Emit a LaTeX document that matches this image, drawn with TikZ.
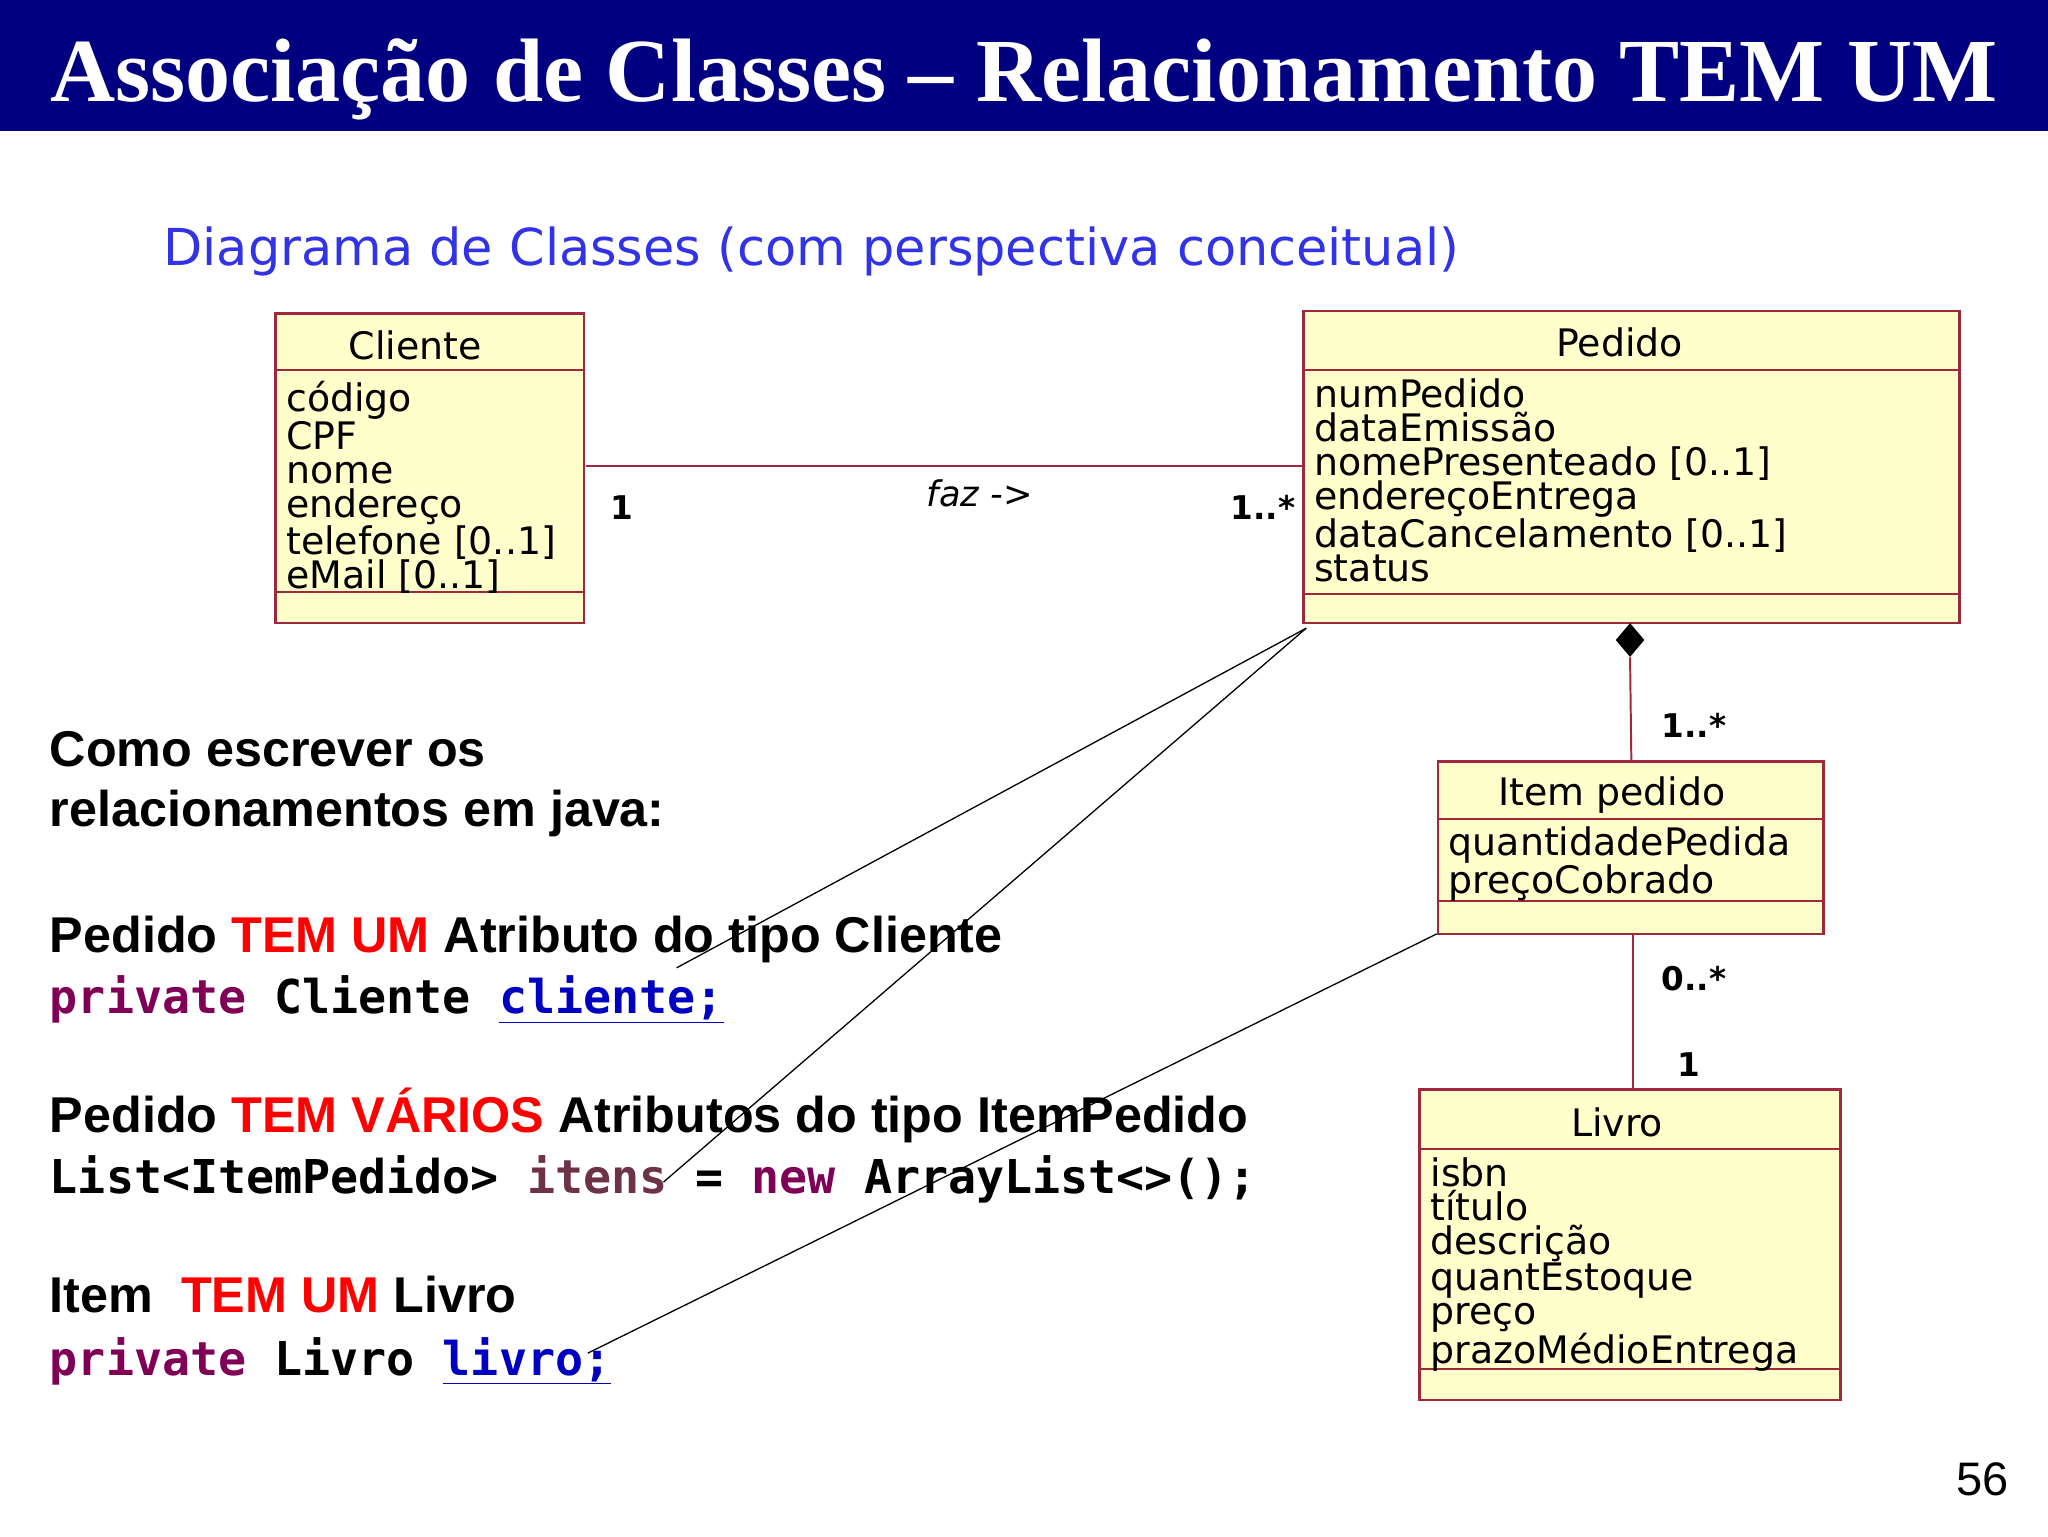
\documentclass[tikz,border=0pt]{standalone}
\usepackage{fontspec}
\setmainfont{Liberation Sans}
\newfontfamily\titlefont{Liberation Serif}
\newfontfamily\umlfont{DejaVu Sans}
\newfontfamily\codefont{DejaVu Sans Mono}
\usetikzlibrary{shapes.geometric}
\definecolor{navy}{RGB}{0,0,128}
\definecolor{umlfill}{RGB}{255,255,204}
\definecolor{umlline}{RGB}{160,40,60}
\definecolor{kw}{RGB}{127,0,85}
\definecolor{fld}{RGB}{0,0,192}
\definecolor{subblue}{RGB}{50,50,230}
\definecolor{item}{RGB}{110,50,70}
\begin{document}
\begin{tikzpicture}[x=1pt,y=-1pt,
  box/.style={draw=umlline,line width=2pt,fill=umlfill},
  sep/.style={draw=umlline,line width=1.5pt},
  hdr/.style={font=\umlfont\fontsize{29}{29}\selectfont,anchor=base},
  attr/.style={font=\umlfont\fontsize{29}{26}\selectfont,anchor=north west,align=left,inner sep=0pt},
  mult/.style={font=\umlfont\bfseries\fontsize{25}{25}\selectfont,anchor=base},
  txt/.style={font=\bfseries\fontsize{38.5}{38.5}\selectfont,anchor=base west,inner sep=0pt},
  code/.style={font=\codefont\bfseries\fontsize{35.7}{35.7}\selectfont,anchor=base west,inner sep=0pt},
  ptr/.style={black,line width=1pt}]
\useasboundingbox (0,0) rectangle (1568,1176);
\fill[navy] (0,0) rectangle (1568,100);
\node[white,font=\titlefont\bfseries\fontsize{69}{69}\selectfont,anchor=base] (title) at (784,78) {Associação de Classes – Relacionamento TEM UM};
\node[subblue,font=\umlfont\fontsize{39}{39}\selectfont,anchor=base west,inner sep=0pt] (sub) at (125,203) {Diagrama de Classes (com perspectiva conceitual)};
% Cliente
\draw[box] (211,240) rectangle (447,477);
\draw[sep] (211,283) -- (447,283); \draw[sep] (211,453) -- (447,453);
\coordinate (cliR) at (449,357);
\node[hdr] (clih) at (318,275) {Cliente};
\node[attr] (clia) at (219,292) {código\\CPF\\nome\\endereço\\telefone [0..1]\\eMail [0..1]};
% Pedido
\draw[box] (998,238) rectangle (1500,477);
\draw[sep] (998,283) -- (1500,283); \draw[sep] (998,455) -- (1500,455);
\coordinate (pedL) at (998,357);
\coordinate (pedBL) at (1000,481);
\node[hdr] (pedh) at (1240,273) {Pedido};
\node[attr] (peda) at (1006,290) {numPedido\\dataEmissão\\nomePresenteado [0..1]\\endereçoEntrega\\dataCancelamento [0..1]\\status};
% Item pedido
\draw[box] (1101,583) rectangle (1396,715);
\draw[sep] (1101,627) -- (1396,627); \draw[sep] (1101,690) -- (1396,690);
\coordinate (itT) at (1249,583); \coordinate (itB) at (1250,715); \coordinate (itL) at (1100,715);
\node[hdr] (ith) at (1234,617) {Item pedido};
\node[attr] (ita) at (1109,633) {quantidadePedida\\preçoCobrado};
% Livro
\draw[box] (1087,834) rectangle (1409,1072);
\draw[sep] (1087,880) -- (1409,880); \draw[sep] (1087,1048) -- (1409,1048);
\coordinate (livT) at (1250,834);
\node[hdr] (livh) at (1238,870) {Livro};
\node[attr] (liva) at (1095,886) {isbn\\título\\descrição\\quantEstoque\\preço\\prazoMédioEntrega};
% associations
\draw[umlline,line width=1.5pt] (cliR) -- (pedL);
\node[mult] (m1) at (476,398) {1};
\node[font=\umlfont\itshape\fontsize{27}{27}\selectfont,anchor=base] (faz) at (750,388) {faz ->};
\node[mult] (m2) at (967,398) {1..*};
\node[diamond,fill=black,minimum width=22pt,minimum height=26pt,inner sep=0pt] (dia) at (1248,490) {};
\draw[umlline,line width=1.5pt] (dia.south) -- (itT);
\node[mult] (m3) at (1297,565) {1..*};
\draw[umlline,line width=1.5pt] (itB) -- (livT);
\node[mult] (m4) at (1297,758) {0..*};
\node[mult] (m5) at (1293,824) {1};
% text
\node[txt] (t1) at (38,587) {Como escrever os};
\node[txt] (t2) at (38,633) {relacionamentos em java:};
\node[txt] (t3) at (38,729) {Pedido \textcolor{red}{TEM UM} Atributo do tipo Cliente};
\node[code] (c1) at (38,776) {\textcolor{kw}{private} Cliente \textcolor{fld}{\underline{cliente;}}};
\node[txt] (t4) at (38,867) {Pedido \textcolor{red}{TEM VÁRIOS} Atributos do tipo ItemPedido};
\node[code] (c2) at (38,914) {List<ItemPedido> \textcolor{item}{itens} = \textcolor{kw}{new} ArrayList<>();};
\node[txt] (t5) at (38,1005) {Item\ \ \textcolor{red}{TEM UM} Livro};
\node[code] (c3) at (38,1053) {\textcolor{kw}{private} Livro \textcolor{fld}{\underline{livro;}}};
\coordinate (p1) at (518,741); \coordinate (p2) at (508,905); \coordinate (p3) at (450,1036);
\draw[ptr] (pedBL) -- (p1);
\draw[ptr] (pedBL) -- (p2);
\draw[ptr] (itL) -- (p3);
\node[font=\fontsize{36}{36}\selectfont,anchor=base] (pg) at (1518,1145) {56};
\end{tikzpicture}
\end{document}
